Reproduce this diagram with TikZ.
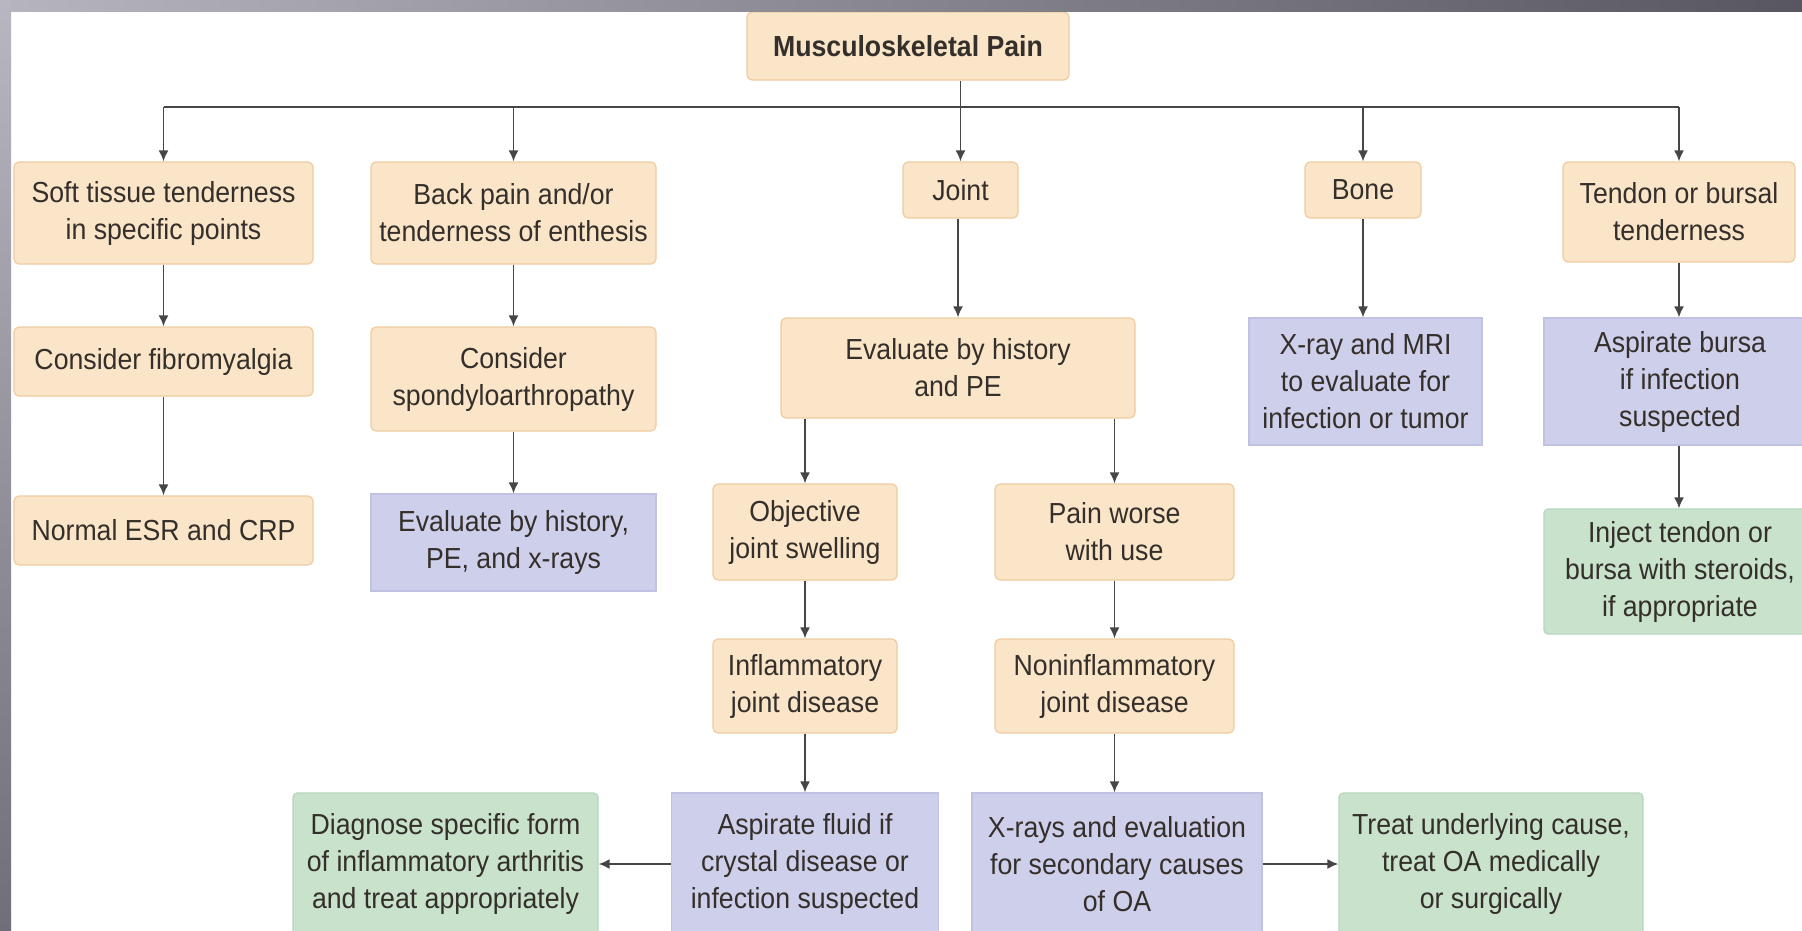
\documentclass[tikz,border=0pt]{standalone}
\usepackage{fontspec}
\setmainfont{Liberation Sans}[FakeStretch=0.92]
\usetikzlibrary{arrows.meta}
\definecolor{tanfill}{RGB}{251,229,201}
\definecolor{tanline}{RGB}{238,204,160}
\definecolor{bluefill}{RGB}{206,207,235}
\definecolor{blueline}{RGB}{192,194,226}
\definecolor{greenfill}{RGB}{200,226,204}
\definecolor{greenline}{RGB}{184,214,190}
\definecolor{inktext}{RGB}{52,47,42}
\definecolor{wiregray}{RGB}{70,70,72}
\tikzset{
  box/.style={draw, line width=1.2pt, inner sep=0pt, align=center, text=inktext,
    font=\fontsize{29}{37}\selectfont},
  tanbox/.style={box, fill=tanfill, draw=tanline, rounded corners=5pt},
  bluebox/.style={box, fill=bluefill, draw=blueline},
  greenbox/.style={box, fill=greenfill, draw=greenline, rounded corners=4pt},
  wire/.style={draw=wiregray, line width=1.8pt},
  arr/.style={wire, -{Latex[length=11pt,width=10pt]}},
}

\begin{document}
\begin{tikzpicture}[x=1pt, y=-1pt]
		%%%%% PAGE %%%%%
		\useasboundingbox (0,0) rectangle (1802,930);
		\clip (0,0) rectangle (1802,930);
		\fill[white] (0,0) rectangle (1802,930);
		
		%%%%% TOP ROW %%%%%
		\node[tanbox, minimum width=322pt, minimum height=68pt, font=\fontsize{29}{37}\selectfont\bfseries] (pain) at (908,46) {Musculoskeletal Pain};
		\node[tanbox, minimum width=299pt, minimum height=102pt] (soft) at (163.5,213) {Soft tissue tenderness\\in specific points};
		\node[tanbox, minimum width=285pt, minimum height=102pt] (back) at (513.5,213) {Back pain and/or\\tenderness of enthesis};
		\node[tanbox, minimum width=115pt, minimum height=56pt] (joint) at (960.5,190) {Joint};
		\node[tanbox, minimum width=116pt, minimum height=56pt] (bone) at (1363,190) {Bone};
		\node[tanbox, minimum width=232pt, minimum height=100pt] (tendon) at (1679,212) {Tendon or bursal\\tenderness};
		
		%%%%% SECOND ROW %%%%%
		\node[tanbox, minimum width=299pt, minimum height=69pt] (fibro) at (163.5,361.5) {Consider fibromyalgia};
		\node[tanbox, minimum width=285pt, minimum height=104pt] (spondy) at (513.5,379) {Consider\\spondyloarthropathy};
		\node[tanbox, minimum width=354pt, minimum height=100pt] (histpe) at (958,368) {Evaluate by history\\and PE};
		\node[bluebox, minimum width=233pt, minimum height=127pt] (xmri) at (1365.5,381.5) {X-ray and MRI\\to evaluate for\\infection or tumor};
		\node[bluebox, minimum width=272pt, minimum height=127pt] (bursa) at (1680,381.5) {Aspirate bursa\\if infection\\suspected};
		
		%%%%% THIRD ROW %%%%%
		\node[tanbox, minimum width=299pt, minimum height=69pt] (esr) at (163.5,530.5) {Normal ESR and CRP};
		\node[bluebox, minimum width=285pt, minimum height=97pt] (histx) at (513.5,542.5) {Evaluate by history,\\PE, and x-rays};
		\node[tanbox, minimum width=184pt, minimum height=96pt] (swell) at (805,532) {Objective\\joint swelling};
		\node[tanbox, minimum width=239pt, minimum height=96pt] (worse) at (1114.5,532) {Pain worse\\with use};
		\node[greenbox, minimum width=272pt, minimum height=125pt] (inject) at (1680,571.5) {Inject tendon or\\bursa with steroids,\\if appropriate};
		
		\node[tanbox, minimum width=184pt, minimum height=94pt] (infl) at (805,686) {Inflammatory\\joint disease};
		\node[tanbox, minimum width=239pt, minimum height=94pt] (noninfl) at (1114.5,686) {Noninflammatory\\joint disease};
		
		%%%%% BOTTOM ROW %%%%%
		\node[greenbox, minimum width=305pt, minimum height=142pt] (diag) at (445.5,864) {Diagnose specific form\\of inflammatory arthritis\\and treat appropriately};
		\node[bluebox, minimum width=267pt, minimum height=142pt] (aspfl) at (805,864) {Aspirate fluid if\\crystal disease or\\infection suspected};
		\node[bluebox, minimum width=290pt, minimum height=142pt] (xeval) at (1117,864) {X-rays and evaluation\\for secondary causes\\of OA};
		\node[greenbox, minimum width=304pt, minimum height=142pt] (treat) at (1491,864) {Treat underlying cause,\\treat OA medically\\or surgically};
		
		%%%%% CONNECTORS %%%%%
		\coordinate (busL) at (163.5,107);
		\coordinate (busR) at (1679,107);
		\draw[wire] (busL) -- (busR);
		\draw[arr] (pain.south -| joint.north) -- (joint.north);
		\draw[arr] (busL) -- (soft.north);
		\draw[arr] (back.north |- busL) -- (back.north);
		\draw[arr] (bone.north |- busL) -- (bone.north);
		\draw[arr] (busR) -- (tendon.north);
		
		\draw[arr] (soft) -- (fibro);
		\draw[arr] (fibro) -- (esr);
		\draw[arr] (back) -- (spondy);
		\draw[arr] (spondy) -- (histx);
		\draw[arr] (joint.south -| histpe.north) -- (histpe.north);
		\draw[arr] (histpe.south -| swell.north) -- (swell.north);
		\draw[arr] (histpe.south -| worse.north) -- (worse.north);
		\draw[arr] (swell) -- (infl);
		\draw[arr] (infl) -- (aspfl);
		\draw[arr] (worse) -- (noninfl);
		\draw[arr] (noninfl.south) -- (xeval.north -| noninfl.south);
		\draw[arr] (aspfl) -- (diag);
		\draw[arr] (xeval) -- (treat);
		\draw[arr] (bone.south) -- (xmri.north -| bone.south);
		\draw[arr] (tendon.south) -- (bursa.north -| tendon.south);
		\draw[arr] (bursa.south -| tendon.south) -- (inject.north -| tendon.south);
		
		%%%%% FRAME %%%%%
		\shade[left color={rgb,255:red,182;green,180;blue,190}, right color={rgb,255:red,88;green,86;blue,94}] (0,0) rectangle (1802,11);
		\shade[top color={rgb,255:red,184;green,182;blue,192}, bottom color={rgb,255:red,112;green,110;blue,118}] (0,0) rectangle (11,930);
		%%%%% END %%%%%
	\end{tikzpicture}
\end{document}
